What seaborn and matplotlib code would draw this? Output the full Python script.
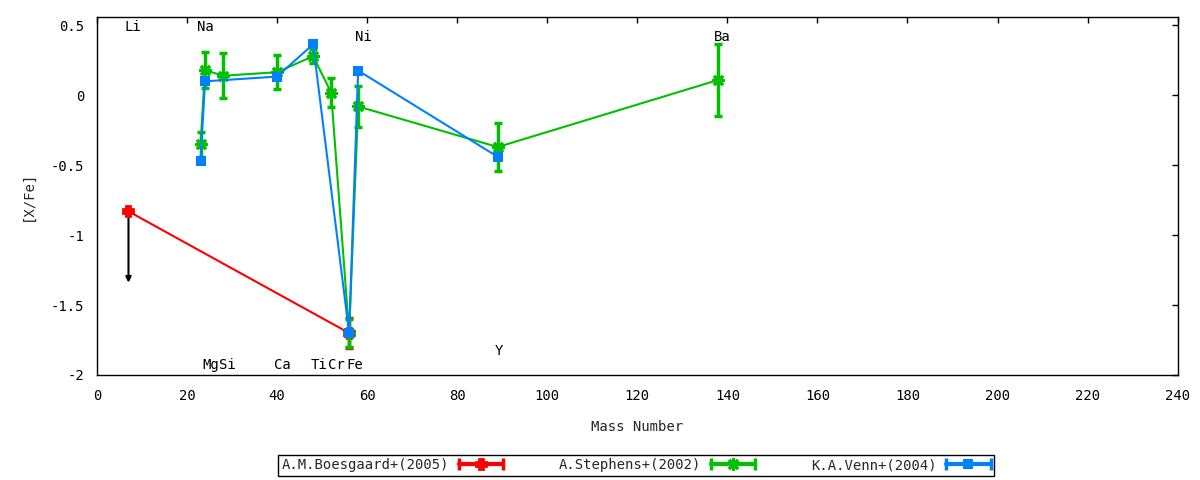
import numpy as np
import pandas as pd
import seaborn as sns
import matplotlib
matplotlib.use("Agg")
import matplotlib.pyplot as plt
from matplotlib.lines import Line2D
from matplotlib.legend_handler import HandlerLine2D
from matplotlib.ticker import FuncFormatter

# Boesgaard+(2005): Li (upper limit) and Fe
boes_mass = [7, 56]
boes_xfe = [-0.83, -1.70]
boes_err = [0.0, 0.105]
li_limit = -1.34

# Stephens+(2002)
step_mass = [23, 24, 28, 40, 48, 52, 56, 58, 89, 138]
step_xfe = [-0.35, 0.18, 0.14, 0.165, 0.28, 0.02, -1.70, -0.08, -0.37, 0.11]
step_err = [0.09, 0.13, 0.16, 0.12, 0.05, 0.105, 0.10, 0.145, 0.17, 0.26]

# Venn+(2004)
venn_mass = [23, 24, 40, 48, 56, 58, 89]
venn_xfe = [-0.467, 0.10, 0.134, 0.365, -1.70, 0.177, -0.44]

# element labels
elem_names = ["Li", "Na", "Mg", "Si", "Ca", "Ti", "Cr", "Fe", "Ni", "Y", "Ba"]
elem_x = [8.0, 24.0, 25.2, 29.0, 41.1, 49.2, 53.2, 57.2, 59.1, 89.3, 138.9]
elem_y = [0.49, 0.49, -1.93, -1.93, -1.93, -1.93, -1.93, -1.93, 0.42, -1.83, 0.42]

sns.set_style("white")
plt.rcParams['font.family'] = ['DejaVu Sans Mono']
plt.rcParams['axes.unicode_minus'] = False
fs = 10

red, green, blue = "#ff0000", "#00c000", "#0080ff"

fig = plt.figure(figsize=(12, 4.8), dpi=100)
ax = fig.add_axes([0.0808, 0.2188, 0.9006, 0.7458])

series = [
    ("A.M.Boesgaard+(2005)", boes_mass, boes_xfe, boes_err, red, "P", 7),
    ("A.Stephens+(2002)", step_mass, step_xfe, step_err, green, (8, 2, 0), 9),
    ("K.A.Venn+(2004)", venn_mass, venn_xfe, None, blue, "s", 7),
]

handles = []
hmap = {}
for label, m, v, e, c, mk, ms in series:
    df = pd.DataFrame({"mass": m, "xfe": v})
    if e is not None:
        ax.errorbar(m, v, yerr=e, fmt="none", ecolor=c, elinewidth=2.5,
                    capsize=3, capthick=2.5, zorder=2)
    sns.lineplot(data=df, x="mass", y="xfe", color=c, linewidth=1.5,
                 marker=mk, markersize=ms, markeredgecolor=c,
                 markeredgewidth=2 if mk != "s" else 0, ax=ax, legend=False,
                 zorder=3)
    caps = Line2D([], [], color=c, lw=3, marker="|", markersize=9, mew=2.5)
    mid = Line2D([], [], color=c, lw=0, marker=mk, markersize=ms,
                 markeredgecolor=c, mew=2 if mk != "s" else 0)
    hmap[caps] = HandlerLine2D(numpoints=2, marker_pad=0)
    hmap[mid] = HandlerLine2D(numpoints=1)
    handles.append(((caps, mid), label))

# upper limit arrow for Li
ax.annotate("", xy=(boes_mass[0], li_limit), xytext=(boes_mass[0], boes_xfe[0]),
            arrowprops=dict(arrowstyle="-|>", color="black", lw=1.5,
                            mutation_scale=8, shrinkA=0, shrinkB=0), zorder=1)

for name, x, y in zip(elem_names, elem_x, elem_y):
    ax.text(x, y, name, ha="center", va="center", fontsize=fs, color="black")

ax.set_xlim(0, 240)
ax.set_ylim(-2.0, 0.56)
ax.set_xticks(np.arange(0, 241, 20))
ax.set_yticks([-2, -1.5, -1, -0.5, 0, 0.5])
ax.yaxis.set_major_formatter(FuncFormatter(lambda val, pos: "%g" % val))
ax.tick_params(direction="in", top=True, right=True, length=4, width=1,
               labelsize=fs, colors="black")
ax.tick_params(axis="x", pad=10)
ax.tick_params(axis="y", pad=9)
for s in ax.spines.values():
    s.set_color("black")
    s.set_linewidth(1)

ax.set_xlabel("Mass Number", fontsize=fs, labelpad=12)
ax.set_ylabel("[X/Fe]", fontsize=fs, labelpad=12)

leg = fig.legend([h for h, _ in handles], [l for _, l in handles], handler_map=hmap,
                 loc="center", bbox_to_anchor=(0.53, 0.031), ncol=3,
                 markerfirst=False, fontsize=fs, frameon=True, fancybox=False,
                 edgecolor="black", framealpha=1, borderpad=0.25,
                 handlelength=3.2, handletextpad=0.7, columnspacing=4.0,
                 borderaxespad=0)
leg.get_frame().set_linewidth(1)

fig.savefig("out.png", dpi=100)
